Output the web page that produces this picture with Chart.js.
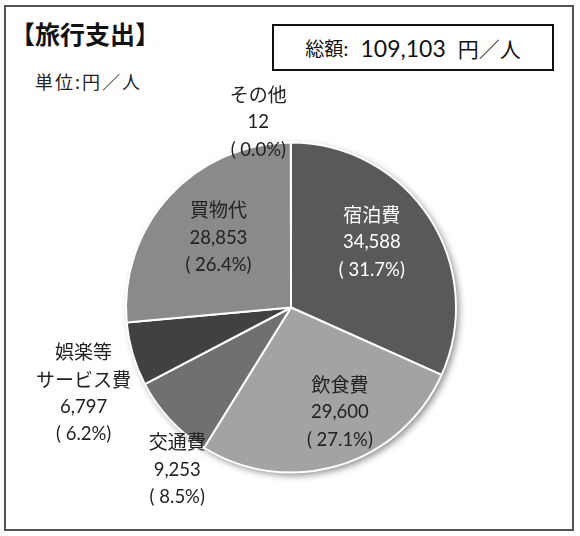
<!DOCTYPE html>
<html>
<head>
<meta charset="utf-8">
<script src="https://cdn.jsdelivr.net/npm/chart.js@4/dist/chart.umd.min.js"></script>
<style>
  html, body { margin: 0; padding: 0; background: #fff; }
  #wrap { position: relative; width: 580px; height: 536px; overflow: hidden;
          font-family: "Lato", "Noto Sans CJK JP", sans-serif; color: #222; }
  #frame { position: absolute; left: 4px; top: 5px; width: 566px; height: 522px;
           border: 2px solid #555; box-sizing: content-box; }
  #title { position: absolute; left: 10px; top: 15px; font-size: 25px; font-weight: bold;
           font-family: "Noto Sans CJK JP", sans-serif; color: #111; }
  #unit { position: absolute; left: 35px; top: 68px; font-size: 18px; letter-spacing: 2px;
          font-family: "Noto Sans CJK JP", sans-serif; }
  #total { position: absolute; left: 272px; top: 24px; width: 278px; height: 43px;
           border: 2.5px solid #111; display: flex; align-items: center; justify-content: center;
           font-family: "Lato", "Noto Sans CJK JP", sans-serif; color: #111; }
  #total .k { font-size: 19px; font-family: "Noto Sans CJK JP", sans-serif; margin-right: 12px; }
  #total .v { font-size: 23px; margin-right: 12px; }
  #total .u { font-size: 21px; font-family: "Noto Sans CJK JP", sans-serif; }
  canvas { position: absolute; left: 0; top: 0; }
</style>
</head>
<body>
<div id="wrap">
  <div id="frame"></div>
  <div id="title">【旅行支出】</div>
  <div id="unit">単位:円／人</div>
  <div id="total"><span class="k">総額:</span><span class="v">109,103</span><span class="u">円／人</span></div>
  <canvas id="c" width="580" height="536"></canvas>
</div>
<script>
// ---- data ----
const categories = ["宿泊費", "飲食費", "交通費", "娯楽等\nサービス費", "買物代", "その他"];
const values = [34588, 29600, 9253, 6797, 28853, 12];
const valueLabels = ["34,588", "29,600", "9,253", "6,797", "28,853", "12"];
const percentLabels = ["( 31.7%)", "( 27.1%)", "( 8.5%)", "( 6.2%)", "( 26.4%)", "( 0.0%)"];

// ---- styles ----
const colors = ["#595959", "#a3a3a3", "#707070", "#414141", "#8a8a8a", "#8a8a8a"];
const labelColors = ["#ffffff", "#222222", "#222222", "#222222", "#222222", "#222222"];
// label placement relative to slice: angle shift (deg) and radius factor
const labelPlace = [
  { da: -6, rf: 0.63 },
  { da: -8, rf: 0.70 },
  { da: -12, rf: 1.20 },
  { da: -6, rf: 1.36 },
  { da: 1.5, rf: 0.61 },
  { da: -10, rf: 1.14 }
];

const shadowPlugin = {
  id: 'pieShadow',
  beforeDatasetsDraw(chart) {
    const arc = chart.getDatasetMeta(0).data[0];
    if (!arc) return;
    const ctx = chart.ctx;
    ctx.save();
    ctx.shadowColor = 'rgba(0,0,0,0.45)';
    ctx.shadowBlur = 7;
    ctx.shadowOffsetX = 3;
    ctx.shadowOffsetY = 3;
    ctx.fillStyle = '#888';
    ctx.beginPath();
    ctx.arc(arc.x, arc.y, arc.outerRadius, 0, Math.PI * 2);
    ctx.fill();
    ctx.restore();
  }
};

const labelPlugin = {
  id: 'sliceLabels',
  afterDatasetsDraw(chart) {
    const ctx = chart.ctx;
    const meta = chart.getDatasetMeta(0);
    meta.data.forEach((arc, i) => {
      const mid = (arc.startAngle + arc.endAngle) / 2 + labelPlace[i].da * Math.PI / 180;
      const r = arc.outerRadius * labelPlace[i].rf;
      const cx = arc.x + Math.cos(mid) * r;
      const cy = arc.y + Math.sin(mid) * r;
      const nameLines = categories[i].split("\n");
      const lines = [];
      nameLines.forEach(t => lines.push({ t, f: '19px "Noto Sans CJK JP", sans-serif' }));
      lines.push({ t: valueLabels[i], f: '18.5px "Lato", "Noto Sans CJK JP", sans-serif' });
      lines.push({ t: percentLabels[i], f: '18.5px "Lato", "Noto Sans CJK JP", sans-serif' });
      const lh = 27.5;
      const y0 = cy - (lines.length - 1) * lh / 2;
      ctx.save();
      ctx.fillStyle = labelColors[i];
      ctx.textAlign = 'center';
      ctx.textBaseline = 'middle';
      lines.forEach((ln, k) => {
        ctx.font = ln.f;
        ctx.fillText(ln.t, cx, y0 + k * lh);
      });
      ctx.restore();
    });
  }
};

new Chart(document.getElementById('c'), {
  type: 'pie',
  data: {
    labels: categories,
    datasets: [{
      data: values,
      backgroundColor: colors,
      borderColor: '#ffffff',
      borderWidth: 2
    }]
  },
  options: {
    responsive: false,
    animation: false,
    layout: { padding: { left: 125, right: 123, top: 141, bottom: 62 } },
    plugins: { legend: { display: false }, tooltip: { enabled: false } }
  },
  plugins: [shadowPlugin, labelPlugin]
});
</script>
</body>
</html>
